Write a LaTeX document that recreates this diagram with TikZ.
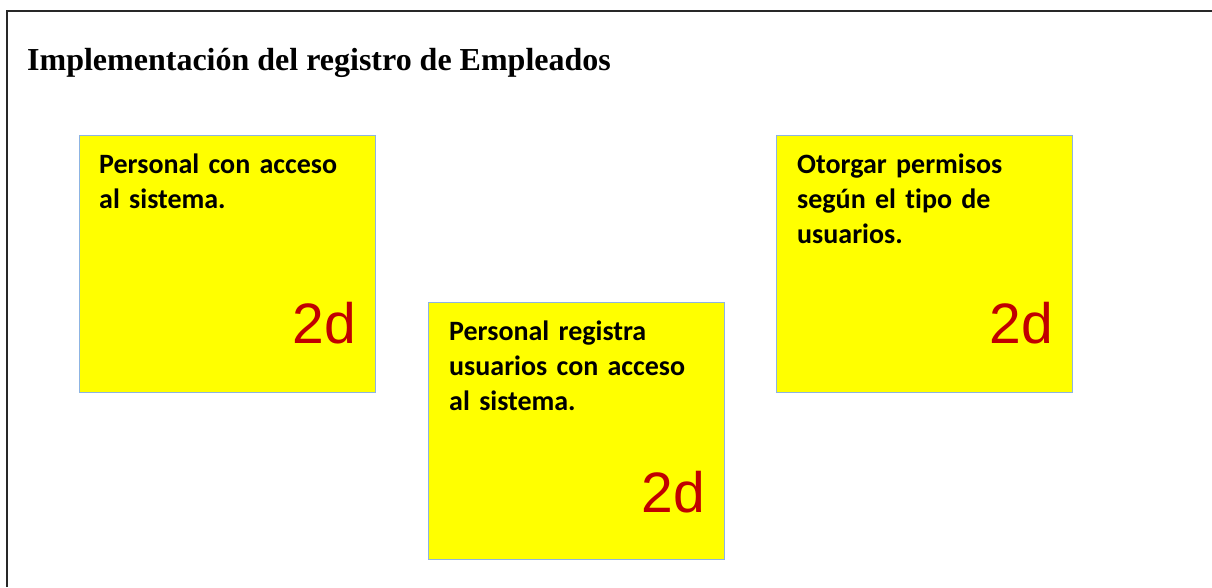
\documentclass[tikz,border=0pt]{standalone}
\usepackage{fontspec}
\setmainfont{Liberation Serif}
\newfontfamily\boxfont[Ligatures=NoCommon]{Carlito}
\newfontfamily\numfont{Liberation Sans}
\definecolor{boxfill}{RGB}{255,255,0}
\definecolor{boxline}{RGB}{141,180,226}
\definecolor{numred}{RGB}{192,0,0}
\definecolor{frameline}{RGB}{40,40,40}
\tikzset{
  card/.style={draw=boxline, line width=1pt, fill=boxfill, minimum width=296pt,
    minimum height=257pt, anchor=north west, inner sep=0pt},
  cardtext/.style={anchor=base west, inner sep=0pt, align=left, text width=275pt,
    font=\boxfont\bfseries\fontsize{28}{35}\selectfont},
  days/.style={anchor=base east, inner sep=0pt, text=numred,
    font=\numfont\fontsize{57}{60}\selectfont},
  frame/.style={draw=frameline, line width=1.5pt},
  titletext/.style={anchor=base west, inner sep=0pt, font=\bfseries\fontsize{32}{36}\selectfont},
}
\begin{document}
\begin{tikzpicture}[x=1pt,y=-1pt]
\useasboundingbox (0,0) rectangle (1212,587);
\coordinate (fl) at (7,587);
\coordinate (fc) at (7,11);
\coordinate (fr) at (1212,11);
\draw[frame] (fl) -- (fc) -- (fr);
\node[titletext] (title) at (27,70) {Implementación del registro de Empleados};

\node[card] (c1) at (79,135) {};
\node[card] (c2) at (428,302) {};
\node[card] (c3) at (776,135) {};

\node[cardtext] (t1) at ([shift={(20,38)}]c1.north west) {Personal con acceso\\al sistema.};
\node[cardtext] (t2) at ([shift={(21,38)}]c2.north west) {Personal registra\\usuarios con acceso\\al sistema.};
\node[cardtext] (t3) at ([shift={(21,38)}]c3.north west) {Otorgar permisos\\según el tipo de\\usuarios.};

\node[days] (d1) at ([shift={(-20,208)}]c1.north east) {2d};
\node[days] (d2) at ([shift={(-20,210)}]c2.north east) {2d};
\node[days] (d3) at ([shift={(-20,208)}]c3.north east) {2d};
\end{tikzpicture}
\end{document}
